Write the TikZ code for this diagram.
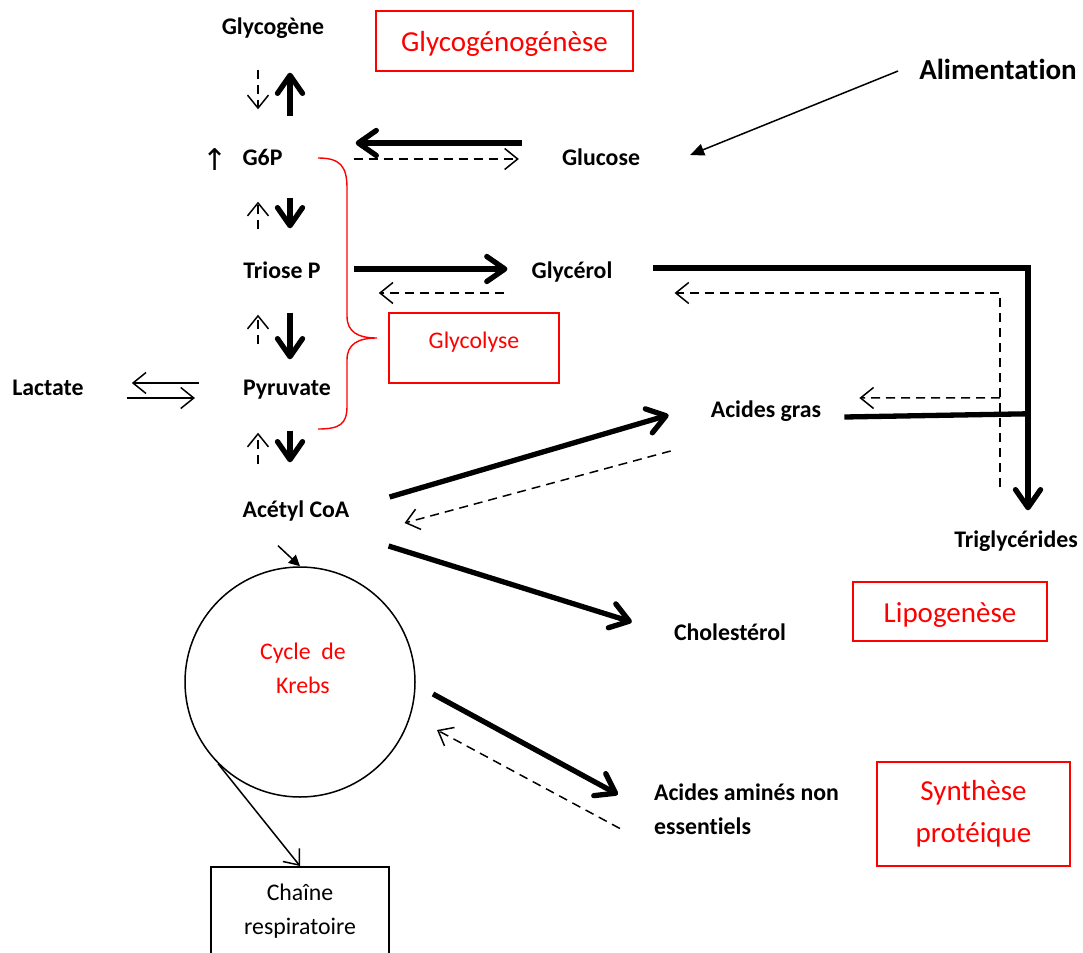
\documentclass[tikz,border=0pt]{standalone}
\usepackage{fontspec}
\setmainfont{Carlito}[Ligatures=NoCommon]
\newfontfamily\symbfont{DejaVu Sans}
\usetikzlibrary{arrows.meta, positioning, calc}

\begin{document}
\begin{tikzpicture}[
		x=1pt, y=-1pt,
		met/.style={font=\bfseries\fontsize{23.8}{34}\selectfont, inner sep=0pt, text height=16pt, text depth=5pt},
		redbox/.style={draw=red, line width=1.8pt, text=red, inner sep=0pt},
		bigred/.style={redbox, font=\fontsize{29}{42}\selectfont},
		thickarr/.style={line width=5.3pt, -{Straight Barb[length=18pt, width=25pt, round]}},
		thickline/.style={line width=5.3pt},
		dasharr/.style={line width=1.5pt, dash pattern=on 9pt off 6pt, -{Straight Barb[length=13pt, width=21pt]}},
		dashline/.style={line width=1.5pt, dash pattern=on 9pt off 6pt},
		thinarr/.style={line width=1.5pt, -{Straight Barb[length=13pt, width=21pt]}},
		fillarr/.style={line width=1.5pt, -{Triangle[length=14pt, width=12pt]}}
	]
	\useasboundingbox (0,0) rectangle (1083,952);

	% colonnes des fleches verticales
	\coordinate (lcol) at (258,0);
	\coordinate (rcol) at (290,0);

	% metabolites
	\node[met] (glycogene) at (273,29) {Glycogène};
	\node[met] (g6p) at (262.5,160) {G6P};
	\node[inner sep=0pt, font=\symbfont\fontsize{30}{34}\selectfont, left=15pt of g6p] (g6pup) {↑};
	\node[met] (glucose) at (601,160) {Glucose};
	\node[met] (triose) at (282,273) {Triose P};
	\node[met] (glycerol) at (572,273) {Glycérol};
	\node[met] (lactate) at (48,390) {Lactate};
	\node[met] (pyruvate) at (287,390) {Pyruvate};
	\node[met] (acetyl) at (296,512) {Acétyl CoA};
	\node[met] (acgras) at (766,412) {Acides gras};
	\node[met] (trigly) at (1016,542) {Triglycérides};
	\node[met] (chol) at (730,635) {Cholestérol};
	\node[font=\bfseries\fontsize{23.8}{34}\selectfont, inner sep=0pt, align=left] (aa) at (746.5,809.5) {Acides aminés non\\essentiels};
	\node[font=\bfseries\fontsize{29}{35}\selectfont, inner sep=0pt] (alim) at (998,69) {Alimentation};

	% encadres
	\node[bigred, minimum width=257pt, minimum height=60pt, text height=26pt, text depth=4pt] (glycogenese) at (504.5,41) {Glycogénogénèse};
	\node[redbox, font=\fontsize{23.8}{34}\selectfont, minimum width=170pt, minimum height=70pt, text height=16pt, text depth=16pt] (glycolyse) at (474,348) {Glycolyse};
	\node[bigred, minimum width=194pt, minimum height=59pt, text height=26pt, text depth=4pt] (lipogenese) at (950,611.5) {Lipogenèse};
	\node[bigred, minimum width=193pt, minimum height=104pt, align=center] (synthese) at (973.5,814) {Synthèse\\protéique};

	\node[draw, circle, line width=1.5pt, minimum size=230pt, inner sep=0pt] (krebs) at (300,682) {};
	\node[text=red, align=center, font=\fontsize{23.8}{34}\selectfont, inner sep=0pt] (krebslbl) at (303,668) {Cycle\ \ de\\Krebs};
	\node[draw, line width=1.5pt, anchor=north, minimum width=178pt, inner ysep=17pt, align=center, font=\fontsize{23.8}{34}\selectfont] (chaine) at (300,866) {Chaîne\\respiratoire};

	% accolade glycolyse
	\draw[red, line width=1.4pt] (318,158) .. controls (340,158) and (347,166) .. (347,188) -- (347,316)
		.. controls (347,332) and (358,338) .. (377,338) .. controls (358,338) and (347,344) .. (347,360)
		-- (347,406) .. controls (347,424) and (340,429) .. (318,429);

	% colonne centrale
	\draw[dasharr] ($(glycogene.south -| lcol)+(0,30)$) -- ($(g6p.north -| lcol)-(0,40)$);
	\draw[thickarr] ($(g6p.north -| rcol)-(0,33)$) -- ($(glycogene.south -| rcol)+(0,33)$);
	\draw[dasharr] ($(triose.north -| lcol)-(0,33)$) -- ($(g6p.south -| lcol)+(0,31)$);
	\draw[thickarr] ($(g6p.south -| rcol)+(0,27)$) -- ($(triose.north -| rcol)-(0,34)$);
	\draw[dasharr] ($(pyruvate.north -| lcol)-(0,35)$) -- ($(triose.south -| lcol)+(0,31)$);
	\draw[thickarr] ($(triose.south -| rcol)+(0,29)$) -- ($(pyruvate.north -| rcol)-(0,20)$);
	\draw[dasharr] ($(acetyl.north -| lcol)-(0,37)$) -- ($(pyruvate.south -| lcol)+(0,32)$);
	\draw[thickarr] ($(pyruvate.south -| rcol)+(0,30)$) -- ($(acetyl.north -| rcol)-(0,39)$);

	% glucose, glycerol, lactate
	\draw[fillarr] ($(alim.west)+(-21,2)$) -- ($(glucose.east)+(50,-5)$);
	\draw[thickarr] ($(glucose.west)+(-40,-17)$) -- ($(g6p.east)+(73,-17)$);
	\draw[dasharr] ($(g6p.east)+(71,-1)$) -- ($(glucose.west)+(-43,-1)$);
	\draw[thickarr] ($(triose.east)+(33,-4)$) -- ($(glycerol.west)+(-24,-4)$);
	\draw[dasharr] ($(glycerol.west)+(-27,20)$) -- ($(triose.east)+(58,20)$);
	\draw[thinarr] ($(pyruvate.west)+(-44,-7)$) -- ($(lactate.east)+(48,-7)$);
	\draw[thinarr] ($(lactate.east)+(43,8)$) -- ($(pyruvate.west)+(-48,8)$);

	% lipogenese
	\draw[thickarr] ($(glycerol.east)+(40,-5)$) -| ($(trigly.north)+(12,-21)$);
	\draw[thickline] ($(acgras.east)+(23,5)$) -- ($(trigly.north)+(12,-117.5)$);
	\draw[dasharr] ($(trigly.north)+(-16,-44)$) |- ($(glycerol.east)+(62,20)$);
	\draw[dasharr] ($(trigly.north)+(-16,-133.5)$) -- ($(acgras.east)+(38,-14)$);
	\draw[thickarr] ($(acetyl.east)+(40,-15)$) -- ($(acgras.west)+(-42,3)$);
	\draw[dasharr] ($(acgras.west)+(-40,39)$) -- ($(acetyl.east)+(55,11)$);
	\draw[thickarr] ($(acetyl.east)+(39,34)$) -- ($(chol.west)+(-42,-13)$);

	% cycle de Krebs
	\draw[line width=1.5pt, -{Triangle[length=11pt, width=11pt]}] ($(acetyl.south)+(-18,23)$) -- (krebs.north);
	\draw[thinarr] (krebs.225) -- (chaine.north);
	\draw[thickarr] ($(krebs.center)+(133,12)$) -- ($(aa.west)+(-36,-15)$);
	\draw[dasharr] ($(aa.west)+(-34,19)$) -- ($(krebs.center)+(137,48)$);
\end{tikzpicture}
\end{document}
